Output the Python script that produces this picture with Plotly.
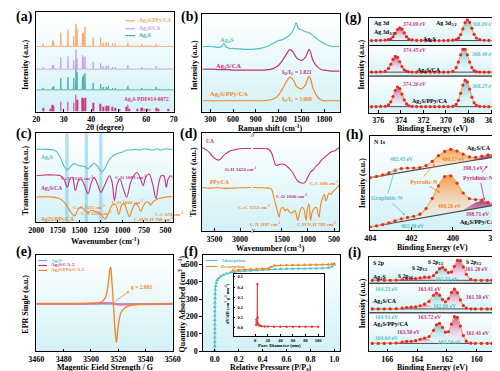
import plotly.graph_objects as go

W, H = 500, 371
FONT = "Liberation Serif"

TEAL = "#53bfc6"
XTEAL = "#4aaea6"
MAG = "#c4307f"
ORG = "#f5841f"
LAV = "#c9a3e2"
LORG = "#f6a870"
PINK = "#d0367f"
RED = "#e4282c"
FIT = "#f4a33c"
GRAY = "#4a4a4a"

# ======================= DATA =======================
# (a) XRD: peak positions (2theta) and peak heights
xrd_pos = [22.5, 25.1, 25.9, 26.3, 28.9, 31.5, 33.6, 34.4, 34.8, 36.8, 37.1, 37.7, 40.7, 43.4, 44.3, 45.4,
           46.2, 47.7, 48.7, 50.4, 52.7, 53.3, 53.9, 56.8, 58.3, 58.6, 59.5, 60.4, 61.3, 63.6, 64.5, 68.0]
xrd_ref = [4, 3, 7, 6, 10, 10, 9, 17, 12, 14, 13, 14, 9, 8, 5, 6, 6, 5, 4, 3, 5, 7, 3, 3, 4, 4, 3, 3, 3, 4, 3, 3]
xrd_ag2s = [2, 0.5, 3, 4, 12, 13, 12, 24, 18, 13, 15, 17, 7, 6, 3, 3, 4, 2, 2, 0.5, 1, 4, 1, 0.5, 2, 1, 1, 1, 1, 3, 1, 1]
xrd_ca = [2, 0.5, 4, 4, 12, 13, 9, 20, 11, 14, 12, 13, 7, 6, 3, 3, 4, 2, 2, 0.5, 1, 4, 1, 0.5, 2, 1, 1, 1, 1, 3, 1, 1]
xrd_ppy = [3, 1, 6, 5, 14, 17, 10, 23, 18, 13, 14, 20, 9, 9, 4, 4, 4, 3, 3, 1, 1, 4, 1, 1, 2, 1, 1, 1, 1, 3, 1, 1]
xrd_offsets = [22, 43, 66]

# (b) Raman
raman_x = [200, 250, 300, 350, 400, 450, 480, 500, 550, 600, 650, 700, 750, 800, 850, 900, 950, 1000, 1050, 1100,
           1150, 1200, 1250, 1300, 1350, 1400, 1430, 1460, 1500, 1550, 1580, 1600, 1620, 1650, 1700, 1750, 1800,
           1850, 1900, 1950, 2000]
raman_ag2s = [0, 0, 0, -0.5, -1, 0, 3, 0.5, -2, -2, -2.5, -2.5, -3, -3, -3, -2.5, -2, -1, 0, 2, 4, 6, 7, 9, 12, 18,
              24, 18, 17, 15, 14.5, 14, 13, 11, 8, 5, 3, 1, 0, 0, 0]
raman_ca = [1, 1, 1, 1, 0.5, 0.5, 0.5, 0.5, 0.5, 0, 0, 0, 0, 0, 0, 0, 0, 0, 0.5, 1, 2.5, 5, 10, 16, 21, 17, 13, 11,
            10, 13, 18, 21, 18, 10, 4, 1, 0, -0.5, -1, -1, -1]
raman_ppy = [0, 0, 0, 0, 0, 0, 0, 0, 0, 0, 0, 0, 0, 0, 0, 0, 0, 0, 0.5, 1, 2.5, 6, 12, 19, 24, 20, 15, 13, 12, 16, 22,
             25, 22, 13, 5, 1, 0, 0, 0, 0, 0]
raman_offsets = [66, 42, 11]

# (g) Ag 3d XPS (heights above baseline)
ag3d_x = [377.0, 376.6, 376.2, 375.8, 375.4, 375.1, 374.9, 374.7, 374.5, 374.3, 374.1, 373.9, 373.7, 373.5, 373.3,
          373.0, 372.6, 372.2, 371.8, 371.4, 371.0, 370.6, 370.2, 369.8, 369.4, 369.1, 368.9, 368.7, 368.5, 368.3,
          368.1, 367.9, 367.7, 367.5, 367.3, 367.0, 366.6, 366.2, 365.8]
ag3d_ag2s = [0, 0, 0.1, 0.2, 0.5, 1.0, 1.6, 3.8, 7.3, 11.2, 13.0, 11.5, 7.7, 3.9, 1.6, 0.6, 0.2, 0.1, 0, 0, 0, 0, 0,
             0.1, 0.4, 0.9, 2.4, 6.0, 11.8, 18.1, 21.0, 18.5, 12.4, 6.3, 2.6, 0.9, 0.3, 0.1, 0]
ag3d_ca = [0, 0, 0.1, 0.3, 0.8, 3.8, 8.0, 13.0, 15.9, 14.9, 10.5, 5.7, 2.3, 0.9, 0.4, 0.1, 0, 0, 0, 0, 0, 0, 0, 0.1,
           0.8, 4.5, 10.2, 17.6, 23.2, 23.2, 17.6, 10.2, 4.5, 1.5, 0.4, 0.1, 0, 0, 0]
ag3d_ppy = [0, 0, 0.1, 0.2, 0.4, 1.8, 4.9, 10.3, 16.4, 19.9, 18.3, 12.8, 6.8, 2.8, 0.9, 0.3, 0.1, 0, 0, 0, 0, 0, 0,
            0, 0.3, 2.3, 6.4, 13.5, 21.9, 26.8, 25.0, 17.8, 9.6, 3.9, 1.2, 0.3, 0.1, 0, 0]
ag3d_split = 371.0
ag3d_offsets = [73, 41, 6]

# (c) FTIR
c_ag2s_x = [2000, 1900, 1800, 1760, 1720, 1690, 1660, 1640, 1620, 1590, 1560, 1520, 1480, 1440, 1400, 1370, 1330,
            1300, 1270, 1240, 1210, 1180, 1150, 1100, 1050, 1000, 950, 900, 850, 800, 750, 700, 650, 600, 550, 500,
            450, 420]
c_ag2s_y = [73.7, 73.7, 73, 71, 65.3, 58.7, 54.3, 53, 54.3, 57.7, 59.3, 57.7, 57, 56.3, 54.3, 56.3, 59.7, 57.7, 53.7,
            51, 53.7, 58.7, 63.7, 67.7, 69.7, 71, 73, 73, 73.7, 73, 74.3, 73.7, 73, 74.3, 73, 74.3, 73.7, 74.3]
c_ca_x = [2000, 1900, 1800, 1720, 1680, 1640, 1610, 1580, 1547, 1510, 1480, 1440, 1400, 1360, 1330, 1290, 1250, 1200,
          1150, 1120, 1093, 1060, 1030, 990, 950, 910, 870, 830, 790, 760, 730, 690, 650, 610, 580, 550, 520, 490, 470,
          440, 420]
c_ca_y = [47, 47.7, 47.7, 47, 43.7, 35.3, 43.7, 45.3, 32, 42, 43.7, 37, 28.7, 40.3, 45.3, 38.7, 30.3, 38.7, 47, 40.3,
          22, 38.7, 43.7, 33.7, 25.3, 38.7, 47, 50.3, 43.7, 37, 45.3, 48.7, 38.7, 23.7, 38.7, 47, 47, 35.3, 43.7, 47,
          45.3]
c_ppy_x = [2000, 1900, 1800, 1750, 1700, 1650, 1600, 1555, 1520, 1480, 1440, 1400, 1360, 1320, 1280, 1240, 1202, 1160,
           1120, 1080, 1042, 1010, 980, 950, 920, 890, 850, 820, 788, 750, 720, 690, 674, 640, 600, 550, 500, 450, 420]
c_ppy_y = [25.3, 25.7, 25.3, 24.3, 22, 17, 10.3, 6.3, 12, 15.3, 12, 9.7, 12, 11, 9.7, 7, 3, 9.7, 17, 17.7, 7.7, 17,
           18.7, 12, 5.3, 12, 18.7, 17, 11, 17.7, 20.3, 19.7, 17, 21, 23, 24.3, 25.3, 25.7, 26]
c_bands = [(1665, 1625), (1438, 1400), (1270, 1232)]

# (d) FTIR with broken axis
d_ca_lx = [3750, 3700, 3650, 3600, 3550, 3500, 3450, 3424, 3380, 3330, 3280, 3200, 3100, 3000, 2900, 2780]
d_ca_ly = [86, 85, 83.3, 81, 77.7, 75, 73.7, 73.3, 74.3, 77.7, 80, 82.7, 84, 85, 85.3, 85.3]
d_ca_rx = [2050, 1900, 1800, 1750, 1700, 1660, 1630, 1600, 1560, 1500, 1450, 1400, 1350, 1300, 1250, 1200, 1150, 1100,
           1060, 1036, 1000, 950, 900, 850, 800, 750, 700, 650, 600, 550, 500, 450, 400]
d_ca_ry = [85.3, 85.3, 85, 84.3, 81, 74.3, 69.3, 67.7, 68.7, 69.3, 68.7, 66.7, 64.3, 61, 56, 52, 50, 49.3, 50, 52, 56,
           61, 63.3, 66.7, 69.3, 72.7, 75.3, 77.7, 80, 82, 82.7, 84.3, 86.7]
d_ppy_lx = [3750, 3600, 3450, 3300, 3150, 3000, 2780]
d_ppy_ly = [45, 44.3, 44.7, 44, 44.3, 44.7, 45]
d_ppy_rx = [2050, 1900, 1750, 1700, 1660, 1620, 1580, 1554, 1520, 1480, 1440, 1400, 1350, 1300, 1250, 1197, 1160,
            1120, 1080, 1036, 1010, 980, 950, 920, 880, 840, 789, 760, 720, 690, 680, 660, 630, 600, 560, 520, 480,
            440, 400]
d_ppy_ry = [45, 44.7, 44.3, 43.3, 36, 27.7, 19.3, 14.3, 22.7, 24.3, 21, 22.7, 19.3, 18.7, 21, 11, 18.7, 24.3, 22.7,
            11, 23.3, 27.7, 11, 19.3, 23.3, 24.3, 14.3, 26, 34.3, 37.7, 36.7, 31, 34.3, 39.3, 37.7, 41, 42.7, 45.3,
            47.7]

# (h) N 1s XPS
n1s_x = [404.0, 403.7, 403.4, 403.1, 402.8, 402.5, 402.2, 401.9, 401.6, 401.3, 401.0, 400.7, 400.4, 400.1, 399.8,
         399.5, 399.2, 398.9, 398.6, 398.3, 398.0]
n1s_base_ca = [53.0, 54.1, 55.1, 56.2, 57.2, 58.3, 59.3, 60.4, 61.4, 62.5, 63.5, 64.6, 65.6, 66.7, 67.7, 68.8, 69.8,
               70.9, 71.9, 73.0, 74.0]
n1s_ca_pyrrolic = [0, 0, 0, 0, 0, 0, 0, 0.2, 0.8, 2.5, 5.9, 10.7, 14.0, 15.0, 12.3, 7.9, 3.9, 1.5, 0.5, 0.1, 0]
n1s_ca_graphitic = [0.0, 0.2, 0.7, 1.8, 3.2, 4.0, 3.5, 2.2, 1.0, 0.3, 0.1, 0, 0, 0, 0, 0, 0, 0, 0, 0, 0]
n1s_ca_pyridinic = [0, 0, 0, 0, 0, 0, 0, 0, 0, 0, 0, 0, 0, 0, 0, 0.06, 0.3, 1.1, 2.4, 3.0, 2.4]
n1s_ca_env = [0, 0.2, 0.7, 1.8, 3.2, 4.0, 3.5, 2.4, 1.8, 2.8, 6.0, 10.7, 14.0, 15.0, 12.3, 8.0, 4.2, 2.6, 2.9, 3.1, 2.4]
n1s_base_ppy = [3.0, 4.1, 5.2, 6.3, 7.4, 8.5, 9.6, 10.7, 11.8, 12.9, 14.0, 15.1, 16.2, 17.3, 18.4, 19.5, 20.6, 21.7,
                22.8, 23.9, 25.0]
n1s_ppy_pyrrolic = [0, 0, 0, 0, 0, 0, 0.2, 0.9, 3.1, 8.4, 18.0, 29.6, 37.9, 37.6, 28.9, 17.2, 8.0, 2.9, 0.8, 0.2, 0]
n1s_ppy_graphitic = [0, 0.07, 0.3, 0.9, 1.9, 2.8, 2.9, 2.2, 1.1, 0.4, 0, 0, 0, 0, 0, 0, 0, 0, 0, 0, 0]
n1s_ppy_pyridinic = [0, 0, 0, 0, 0, 0, 0, 0, 0, 0, 0, 0, 0, 0, 0.1, 0.8, 3.1, 6.2, 6.7, 3.9, 1.3]
n1s_ppy_env = [0, 0.07, 0.3, 0.9, 1.9, 2.8, 3.1, 3.1, 4.2, 8.8, 18.0, 29.6, 37.9, 37.6, 29.0, 18.0, 11.1, 9.1, 7.5,
               4.1, 1.3]

# (e) EPR
epr_x = [3460, 3480, 3490, 3500, 3505, 3508, 3510, 3511, 3512, 3513, 3514, 3514.5, 3515, 3516, 3517, 3518, 3518.7,
         3519.5, 3520, 3521, 3522, 3524, 3527, 3530, 3535, 3540, 3550, 3560]
epr_ppy = [0, 0, 0.2, 0.6, 1.2, 2.5, 5, 8, 14, 24, 36, 37, 30, 10, -12, -32, -39, -30, -22, -14, -9, -5, -2.5, -1.2,
           -0.5, -0.2, 0, 0]
epr_ca_x = [3460, 3500, 3510, 3516, 3520, 3530, 3560]
epr_ca = [0, 0.3, 0.8, 0.5, -0.5, -0.3, 0]
epr_ag2s_x = [3460, 3560]
epr_ag2s = [0, 0]

# (f) N2 isotherm + pore size distribution
ads_p = [0.0] * 12 + [0.001, 0.002, 0.004, 0.007, 0.012, 0.02, 0.03, 0.05, 0.07, 0.1, 0.13, 0.16, 0.2, 0.25, 0.3,
                      0.35, 0.4, 0.45, 0.5, 0.55, 0.6, 0.65, 0.7, 0.75, 0.8, 0.85, 0.9, 0.95, 0.98, 1.0]
ads_q = [5, 30, 55, 80, 105, 130, 155, 180, 205, 230, 255, 280, 305, 330, 355, 375, 395, 410, 420, 432, 440, 448,
         453, 456, 460, 463, 465, 467, 469, 471, 473, 474, 475, 475, 476, 476, 477, 477, 478, 481, 488, 500]
des_p = [1.0, 0.98, 0.95, 0.9, 0.85, 0.8, 0.75, 0.7, 0.65, 0.6, 0.55, 0.5, 0.47, 0.45, 0.4, 0.35, 0.3, 0.25, 0.2, 0.15]
des_q = [505, 502, 500, 499, 498, 498, 497, 497, 496, 496, 495, 494, 485, 477, 475, 474, 473, 471, 469, 465]
pore_d = [1.5, 2.0, 2.5, 3.0, 3.5, 3.8, 4.2, 5, 6, 8, 10, 15, 20, 30, 40, 50, 60, 70, 80, 90, 100]
pore_v = [0.03, 0.08, 0.06, 0.05, 0.43, 0.10, 0.04, 0.03, 0.025, 0.02, 0.015, 0.012, 0.012, 0.01, 0.01, 0.01, 0.01,
          0.01, 0.01, 0.01, 0.01]

# (i) S 2p XPS
s2p_x = [167.0, 166.6, 166.2, 165.8, 165.4, 165.0, 164.7, 164.4, 164.1, 163.8, 163.5, 163.2, 162.9, 162.7, 162.5, 162.3,
         162.1, 161.9, 161.7, 161.5, 161.3, 161.1, 160.9, 160.7, 160.4, 160.1, 159.7, 159.3, 159.0]
s1_p32 = [0] * 16 + [0.4, 1.9, 6.1, 13.5, 20.0, 20.0, 13.5, 6.1, 0.9, 0.05, 0, 0, 0]
s1_p12 = [0] * 10 + [0.05, 0.5, 3.2, 7.2, 11.5, 13.0, 10.2, 5.9, 2.4, 0.6, 0.1] + [0] * 8
s1_s32 = [0] * 7 + [0.2, 0.8, 2.0, 3.0, 2.6, 1.5, 0.7, 0.3, 0.1] + [0] * 13
s1_s12 = [0] * 4 + [0.2, 0.8, 1.4, 1.4, 0.9, 0.4, 0.1] + [0] * 18
s1_env = [0, 0, 0, 0.05, 0.2, 0.8, 1.4, 1.6, 1.7, 2.4, 3.1, 3.1, 4.7, 7.9, 11.8, 13.1, 10.6, 7.8, 8.5, 14.1, 20.1, 20.0,
          13.5, 6.1, 0.9, 0.05, 0, 0, 0]
s2_p32 = [0] * 14 + [0.1, 0.9, 3.4, 9.1, 16.4, 20.0, 16.4, 9.1, 3.4, 0.9, 0.05] + [0] * 4
s2_p12 = [0] * 9 + [0.05, 0.7, 4.1, 11.7, 15.0, 13.4, 8.5, 3.8, 1.2, 0.3] + [0] * 10
s2_s32 = [0] * 7 + [0.3, 1.1, 2.7, 4.0, 3.5, 2.0, 0.9, 0.4, 0.1] + [0] * 13
s2_s12 = [0] * 4 + [0.2, 0.8, 1.4, 1.4, 0.9, 0.4, 0.1] + [0] * 18
s2_env = [0, 0, 0, 0.05, 0.2, 0.8, 1.4, 1.7, 2.0, 3.2, 4.8, 7.6, 13.7, 15.9, 13.9, 9.5, 7.2, 10.3, 16.7, 20.0, 16.4,
          9.1, 3.4, 0.9, 0.05, 0, 0, 0, 0]
s3_p32 = [0] * 14 + [0.1, 0.6, 2.8, 8.4, 18.5, 26.9, 26.4, 17.6, 7.9, 2.3, 0.2] + [0] * 4
s3_p12 = [0] * 10 + [0.4, 3.0, 11.4, 17.9, 19.9, 15.6, 8.6, 3.4, 1.0, 0.2] + [0] * 9
s3_s32 = [0] * 6 + [0.1, 0.5, 1.9, 3.9, 5.0, 3.9, 1.9, 0.9, 0.3] + [0] * 14
s3_s12 = [0] * 3 + [0.05, 0.4, 1.4, 2.0, 1.7, 0.9, 0.3, 0.1] + [0] * 18
s3_env = [0, 0, 0, 0.05, 0.4, 1.4, 2.1, 2.2, 2.8, 4.2, 5.5, 6.9, 13.3, 18.8, 20.3, 16.2, 11.4, 11.8, 19.5, 27.1, 26.4,
          17.6, 7.9, 2.3, 0.2, 0, 0, 0, 0]
s2p_offsets = [72, 43, 8]

# ======================= FIGURE =======================
fig = go.Figure()
shapes = []
annots = []


def dxp(l, r):
    return [l / W, r / W]


def dyp(t, b):
    return [1 - b / H, 1 - t / H]


def grad_bg(l, t, r, b, n=14, top=(255, 255, 255), bot=(210, 242, 247)):
    for k in range(n):
        y0 = t + (b - t) * k / n
        y1 = t + (b - t) * (k + 1) / n + 0.6
        f = (k + 0.5) / n
        c = tuple(round(top[i] + (bot[i] - top[i]) * f) for i in range(3))
        shapes.append(dict(type='rect', xref='paper', yref='paper', x0=l / W, x1=r / W,
                           y0=1 - min(y1, b) / H, y1=1 - y0 / H,
                           fillcolor='rgb(%d,%d,%d)' % c, line=dict(width=0), layer='below'))


def T(xp, yp, text, size=6.5, color='black', xanchor='center', angle=0, italic=False, bold=True):
    annots.append(dict(x=xp / W, y=1 - yp / H, xref='paper', yref='paper', text=text, showarrow=False,
                       xanchor=xanchor, yanchor='middle', textangle=angle,
                       font=dict(family=FONT, size=size, color=color, weight='bold' if bold else 'normal',
                                 style='italic' if italic else 'normal')))


def ARROW(hx, hy, tx, ty, color):
    annots.append(dict(x=hx / W, y=1 - hy / H, xref='paper', yref='paper', text='', showarrow=True,
                       ax=tx - hx, ay=ty - hy, arrowhead=2, arrowsize=0.6, arrowwidth=0.8, arrowcolor=color))


def LEG(x0, x1, yp, color, width=1.2):
    shapes.append(dict(type='line', xref='paper', yref='paper', x0=x0 / W, x1=x1 / W, y0=1 - yp / H, y1=1 - yp / H,
                       line=dict(color=color, width=width), layer='above'))


def sc(x, y, ax, color, width=1.0, shape='linear', mode='lines', **kw):
    xa = 'x' if ax == 1 else 'x%d' % ax
    ya = 'y' if ax == 1 else 'y%d' % ax
    return go.Scatter(x=x, y=y, mode=mode, line=dict(color=color, width=width, shape=shape),
                      xaxis=xa, yaxis=ya, hoverinfo='skip', **kw)


def fill_poly(x, base, hts, ax, color_rgba):
    xs = list(x) + list(x)[::-1]
    ys = [b + h for b, h in zip(base, hts)] + list(base)[::-1]
    xa = 'x' if ax == 1 else 'x%d' % ax
    ya = 'y' if ax == 1 else 'y%d' % ax
    return go.Scatter(x=xs, y=ys, mode='lines', fill='toself', line=dict(width=0),
                      fillgradient=dict(type='vertical',
                                        colorscale=[[0, 'rgba(255,255,255,0.25)'], [1, color_rgba]]),
                      xaxis=xa, yaxis=ya, hoverinfo='skip')


tickfont = dict(family=FONT, size=8, color='black', weight='bold')


def xax(dom, rng, tickvals, anchor, mirror=True, size=8, ticklen=2.5, fmt=None):
    d = dict(domain=dom, range=rng, tickvals=tickvals, anchor=anchor, showline=True, linecolor='black',
             linewidth=1, mirror=mirror, ticks='inside', ticklen=ticklen, tickwidth=1, tickcolor='black',
             showgrid=False, zeroline=False, tickfont=dict(tickfont, size=size))
    if fmt:
        d['tickformat'] = fmt
    return d


def yax(dom, rng, anchor, mirror=True, tickvals=None, side='left', showlabels=False, size=8):
    d = dict(domain=dom, range=rng, anchor=anchor, showline=True, linecolor='black', linewidth=1, mirror=mirror,
             ticks='outside' if showlabels else '', ticklen=2.5, tickcolor='black', showgrid=False, zeroline=False,
             showticklabels=showlabels, side=side, tickfont=dict(tickfont, size=size))
    if tickvals is not None:
        d['tickvals'] = tickvals
    return d


layout_axes = {}

# ---------- panel geometry (pixels) ----------
PA = (21, 4, 163, 105)
PB = (192, 6, 335, 105)
PG = (365, 10, 496, 106)
PC = (21, 127, 162, 217)
PD = (192, 127, 334, 226)
PH = (366, 130, 494, 225)
PE = (21, 250, 162, 348)
PF = (193, 250, 335, 348)
PI = (365, 252, 493, 348)

for p in [PA, PB, PC, PD, PH, PE, PF]:
    grad_bg(*p)
for (t, b) in [(10, 38), (38, 69), (69, 106)]:
    grad_bg(PG[0], t, PG[2], b, n=8)
for (t, b) in [(252, 279), (279, 309), (309, 348)]:
    grad_bg(PI[0], t, PI[2], b, n=8)
# inset background (white)
shapes.append(dict(type='rect', xref='paper', yref='paper', x0=225 / W, x1=318 / W, y0=1 - 332 / H, y1=1 - 270 / H,
                   fillcolor='white', line=dict(width=0), layer='below'))

# ===== (a) XRD =====
layout_axes['xaxis'] = xax(dxp(PA[0], PA[2]), [20, 70], [20, 30, 40, 50, 60, 70], 'y')
layout_axes['yaxis'] = yax(dyp(PA[1], PA[3]), [0, 101], 'x')


def spikes(pos, hts, base, hw=0.15, lo=20, hi=70):
    xs, ys = [lo], [base]
    for p, h in zip(pos, hts):
        xs += [p - hw, p, p + hw]
        ys += [base, base + h, base]
    xs.append(hi)
    ys.append(base)
    return xs, ys


fig.add_trace(go.Bar(x=xrd_pos, y=xrd_ref, width=0.28, marker=dict(color=PINK, line=dict(width=0)),
                     xaxis='x', yaxis='y', hoverinfo='skip'))
for hts, off, col in zip([xrd_ag2s, xrd_ca, xrd_ppy], xrd_offsets, [XTEAL, LAV, LORG]):
    xs, ys = spikes(xrd_pos, hts, off)
    fig.add_trace(sc(xs, ys, 1, col, width=0.9))
for yp, col, lab in [(13, LORG, 'Ag<sub>2</sub>S/PPy/CA'), (21, LAV, 'Ag<sub>2</sub>S/CA'), (28, XTEAL, 'Ag<sub>2</sub>S')]:
    LEG(113, 123, yp, col)
    T(125, yp, lab, size=5.5, color=col, xanchor='left')
T(135, 93, 'Ag<sub>2</sub>S PDF#14-0072', size=5.5, color=PINK)

# ===== (b) Raman =====
layout_axes['xaxis2'] = xax(dxp(PB[0], PB[2]), [190, 2010], [300, 600, 900, 1200, 1500, 1800], 'y2')
layout_axes['yaxis2'] = yax(dyp(PB[1], PB[3]), [0, 99], 'x2')
for hts, off, col in zip([raman_ag2s, raman_ca, raman_ppy], raman_offsets, [TEAL, MAG, ORG]):
    fig.add_trace(sc(raman_x, [off + h for h in hts], 2, col, width=1.2, shape='spline'))
T(218, 32, 'Ag<sub>2</sub>S', size=6.5, color=TEAL)
T(220, 59, 'Ag<sub>2</sub>S/CA', size=6.5, color=MAG)
T(220, 87, 'Ag<sub>2</sub>S/PPy/CA', size=6.5, color=ORG)
T(290, 65, 'I<sub>D</sub>/I<sub>G</sub> = 1.021', size=5.5, color=MAG)
T(290, 93, 'I<sub>D</sub>/I<sub>G</sub> = 1.068', size=5.5, color=ORG)

# ===== (g) Ag 3d =====
layout_axes['xaxis3'] = xax(dxp(PG[0], PG[2]), [376.8, 365.55], [376, 374, 372, 370, 368, 366], 'y3')
layout_axes['yaxis3'] = yax(dyp(PG[1], PG[3]), [0, 96], 'x3')
for hts, off in zip([ag3d_ag2s, ag3d_ca, ag3d_ppy], ag3d_offsets):
    li = [i for i, x in enumerate(ag3d_x) if x >= ag3d_split]
    ri = [i for i, x in enumerate(ag3d_x) if x <= ag3d_split]
    fig.add_trace(fill_poly([ag3d_x[i] for i in li], [off] * len(li), [hts[i] for i in li], 3,
                            'rgba(196,48,127,0.8)'))
    fig.add_trace(fill_poly([ag3d_x[i] for i in ri], [off] * len(ri), [hts[i] for i in ri], 3,
                            'rgba(70,185,190,0.8)'))
    fig.add_trace(sc([ag3d_x[0], ag3d_x[-1]], [off, off], 3, GRAY, width=1))
    yy = [off + h for h in hts]
    fig.add_trace(sc(ag3d_x, yy, 3, FIT, width=1.1, shape='spline'))
    fig.add_trace(sc(ag3d_x, yy, 3, RED, mode='markers', marker=dict(size=3.2, color=RED)))
for yv in [68, 37]:
    shapes.append(dict(type='line', xref='x3 domain', yref='y3', x0=0, x1=1, y0=yv, y1=yv,
                       line=dict(color='black', width=1)))
T(368, 15, 'Ag 3d', size=6, xanchor='left')
T(368, 25, 'Ag 3d<sub>3/2</sub>', size=6, xanchor='left')
T(412, 16, '374.09 eV', size=5.5, color=MAG, italic=True)
T(445, 16, 'Ag 3d<sub>5/2</sub>', size=6)
T(483, 16, '368.09 eV', size=5.5, color=TEAL, italic=True)
T(427, 32, 'Ag<sub>2</sub>S', size=6)
T(412, 43, '374.45 eV', size=5.5, color=MAG, italic=True)
T(483, 47, '368.40 eV', size=5.5, color=TEAL, italic=True)
T(427, 63, 'Ag<sub>2</sub>S/CA', size=6)
T(412, 77, '374.26 eV', size=5.5, color=MAG, italic=True)
T(483, 79, '368.25 eV', size=5.5, color=TEAL, italic=True)
T(428, 95, 'Ag<sub>2</sub>S/PPy/CA', size=6)

# ===== (c) FTIR =====
layout_axes['xaxis4'] = xax(dxp(PC[0], PC[2]), [2000, 415], [2000, 1750, 1500, 1250, 1000, 750, 500], 'y4')
layout_axes['yaxis4'] = yax(dyp(PC[1], PC[3]), [0, 90], 'x4')
for (a, b) in c_bands:
    shapes.append(dict(type='rect', xref='x4', yref='y4 domain', x0=a, x1=b, y0=0, y1=1,
                       fillcolor='rgba(120,200,225,0.55)', line=dict(width=0), layer='below'))
fig.add_trace(sc(c_ag2s_x, c_ag2s_y, 4, TEAL, width=1.1, shape='spline'))
fig.add_trace(sc(c_ca_x, c_ca_y, 4, MAG, width=1.1, shape='spline'))
fig.add_trace(sc(c_ppy_x, c_ppy_y, 4, ORG, width=1.1, shape='spline'))
T(24, 152, 'Ag<sub>2</sub>S', size=5.5, color=TEAL, xanchor='left')
T(44, 172, 'C=C 1547 cm<sup>-1</sup>', size=5, color=MAG, xanchor='left')
T(100, 171, 'C-O 1093 cm<sup>-1</sup>', size=5, color=MAG, xanchor='left')
T(24, 183, 'Ag<sub>2</sub>S/CA', size=5.5, color=MAG, xanchor='left')
T(57, 202, 'C=C 1555 cm<sup>-1</sup>', size=5, color=ORG, xanchor='left')
T(65, 207.5, 'C-N 1202 cm<sup>-1</sup>', size=5, color=ORG, xanchor='left')
T(97, 197, 'C-O 1042 cm<sup>-1</sup>', size=5, color=ORG, xanchor='left')
T(142, 209, 'C-C 674 cm<sup>-1</sup>', size=5, color=ORG, xanchor='left')
T(120, 214, 'C-H/N-H 788 cm<sup>-1</sup>', size=5, color=ORG, xanchor='left')
T(24, 214, 'Ag2S/PPy/CA', size=5.5, color=ORG, xanchor='left')

# ===== (d) FTIR broken axis =====
ydom_d = dyp(PD[1], PD[3])
layout_axes['xaxis5'] = xax(dxp(192, 243), [3750, 2780], [3500, 3000], 'y5')
layout_axes['yaxis5'] = yax(ydom_d, [0, 101], 'x5', mirror=False)
layout_axes['xaxis6'] = xax(dxp(245, 334), [2050, 400], [1500, 1000, 500], 'y6')
layout_axes['yaxis6'] = yax(ydom_d, [0, 101], 'x6', mirror=False, side='right')
fig.add_trace(sc(d_ca_lx, d_ca_ly, 5, MAG, width=1.1, shape='spline'))
fig.add_trace(sc(d_ppy_lx, d_ppy_ly, 5, ORG, width=1.1, shape='spline'))
fig.add_trace(sc(d_ca_rx, d_ca_ry, 6, MAG, width=1.1, shape='spline'))
fig.add_trace(sc(d_ppy_rx, d_ppy_ry, 6, ORG, width=1.1, shape='spline'))
T(244, 128.5, '//', size=6)
T(244, 226, '//', size=6)
T(200, 135, 'CA', size=5.5, color=MAG)
T(214, 163, 'O-H 3424 cm<sup>-1</sup>', size=5, color=MAG, xanchor='left')
T(198, 176, 'PPy/CA', size=5.5, color=ORG, xanchor='left')
T(267, 191, 'C-O 1036 cm<sup>-1</sup>', size=5, color=MAG, xanchor='left')
T(302, 177, 'C-C 680 cm<sup>-1</sup>', size=5, color=ORG, xanchor='left')
T(227, 202, 'C=C 1554 cm<sup>-1</sup>', size=5, color=ORG, xanchor='left')
T(240, 219, 'C-N 1197 cm<sup>-1</sup>', size=5, color=ORG, xanchor='left')
T(288, 219, 'C-H/N-H 789 cm<sup>-1</sup>', size=5, color=ORG, xanchor='left')

# ===== (h) N 1s =====
layout_axes['xaxis7'] = xax(dxp(PH[0], PH[2]), [404, 398], [404, 402, 400, 398], 'y7')
layout_axes['yaxis7'] = yax(dyp(PH[1], PH[3]), [0, 95], 'x7')
for base, comps, env in [
        (n1s_base_ca, [n1s_ca_graphitic, n1s_ca_pyrrolic, n1s_ca_pyridinic], n1s_ca_env),
        (n1s_base_ppy, [n1s_ppy_graphitic, n1s_ppy_pyrrolic, n1s_ppy_pyridinic], n1s_ppy_env)]:
    for hts, col in zip(comps, ['rgba(90,195,200,0.8)', 'rgba(245,140,40,0.85)', 'rgba(170,40,120,0.9)']):
        fig.add_trace(fill_poly(n1s_x, base, hts, 7, col))
    fig.add_trace(sc(n1s_x, base, 7, GRAY, width=1.2))
    yy = [b + h for b, h in zip(base, env)]
    fig.add_trace(sc(n1s_x, yy, 7, FIT, width=1.1, shape='spline'))
    fig.add_trace(sc(n1s_x, yy, 7, RED, mode='markers', marker=dict(size=3.2, color=RED)))
T(368, 136, 'N 1s', size=6, xanchor='left')
T(478, 142, 'Ag<sub>2</sub>S/CA', size=6)
T(398, 153, '402.45 eV', size=5.5, color=TEAL)
T(452, 153, '400.17 eV', size=5.5, color=ORG)
T(472, 162, '398.3 eV', size=5.5, color=MAG)
T(422, 176, 'Pyrrolic-N', size=6, color=ORG)
T(478, 172, 'Pyridinic-N', size=6, color=MAG)
T(383, 193, 'Graphitic-N', size=6, color=TEAL)
T(448, 201, '400.26 eV', size=5.5, color=ORG)
T(477, 209, '398.71 eV', size=5.5, color=MAG)
T(477, 217, 'Ag<sub>2</sub>S/PPy/CA', size=6)
T(410, 221, '402.30 eV', size=5.5, color=TEAL)
ARROW(433, 158, 420, 172, ORG)
ARROW(438, 187, 426, 180, ORG)
ARROW(392, 162, 384, 189, TEAL)
ARROW(402, 210, 388, 197, TEAL)
ARROW(487, 160, 480, 168, MAG)
ARROW(484, 195, 480, 176, MAG)

# ===== (e) EPR =====
layout_axes['xaxis8'] = xax(dxp(PE[0], PE[2]), [3460, 3560], [3460, 3480, 3500, 3520, 3540, 3560], 'y8')
layout_axes['yaxis8'] = yax(dyp(PE[1], PE[3]), [-48, 50], 'x8')
fig.add_trace(sc(epr_ag2s_x, epr_ag2s, 8, TEAL, width=1.2))
fig.add_trace(sc(epr_ca_x, epr_ca, 8, '#d678b4', width=2.2, shape='spline'))
fig.add_trace(sc(epr_x, epr_ppy, 8, ORG, width=1.3, shape='spline'))
for yp, col, lab in [(256, TEAL, 'Ag<sub>2</sub>S'), (261, MAG, 'Ag<sub>2</sub>S/CA-5'),
                     (266, ORG, 'Ag<sub>2</sub>S/PPy/CA-5')]:
    LEG(23, 32, yp, col)
    T(34, yp, lab, size=5, color=col, xanchor='left')
ARROW(117, 287, 102, 298, ORG)
T(130, 283, 'g = 2.003', size=5.5, color=ORG)

# ===== (f) BET =====
layout_axes['xaxis9'] = xax(dxp(PF[0], PF[2]), [-0.1, 1.05], [0.0, 0.2, 0.4, 0.6, 0.8, 1.0], 'y9', fmt='.1f')
layout_axes['yaxis9'] = yax(dyp(PF[1], PF[3]), [0, 557], 'x9', tickvals=[0, 100, 200, 300, 400, 500],
                            showlabels=True)
fig.add_trace(sc(ads_p, ads_q, 9, TEAL, width=1, mode='lines+markers',
                 marker=dict(symbol='triangle-up', size=3.5, color=TEAL)))
fig.add_trace(sc(des_p, des_q, 9, ORG, width=1, mode='lines+markers',
                 marker=dict(symbol='triangle-up', size=3.5, color=ORG)))
for yp, col, lab in [(256, TEAL, 'Adsorption'), (262, ORG, 'Desorption')]:
    LEG(196, 208, yp, col, width=1)
    T(210, yp, lab, size=5, color=col, xanchor='left')
# inset
layout_axes['xaxis10'] = xax(dxp(225, 318), [-34, 109], [0, 20, 40, 60, 80, 100], 'y10', size=4.5, ticklen=1.5)
layout_axes['yaxis10'] = yax(dyp(270, 332), [-0.077, 0.525], 'x10', tickvals=[0, 0.1, 0.2, 0.3, 0.4, 0.5],
                             showlabels=True, size=4.5)
layout_axes['yaxis10']['ticklabelposition'] = 'inside'
layout_axes['yaxis10']['ticks'] = 'inside'
layout_axes['yaxis10']['ticklen'] = 1.5
layout_axes['yaxis10']['tickformat'] = '.1f'
fig.add_trace(sc(pore_d, pore_v, 10, '#e04646', width=1, mode='lines+markers',
                 marker=dict(size=2.5, color='#e04646')))
T(272, 342, 'Pore Diameter (nm)', size=5)
T(218, 300, 'dV/dD (cm<sup>3</sup> g<sup>-1</sup> nm<sup>-1</sup>)', size=4.5, angle=-90)

# ===== (i) S 2p =====
layout_axes['xaxis11'] = xax(dxp(PI[0], PI[2]), [167.2, 158.9], [166, 164, 162, 160], 'y11')
layout_axes['yaxis11'] = yax(dyp(PI[1], PI[3]), [0, 96], 'x11')
pinkc = 'rgba(196,48,127,0.8)'
tealc = 'rgba(70,185,190,0.8)'
for off, comps, env in [(s2p_offsets[0], [s1_s12, s1_s32, s1_p12, s1_p32], s1_env),
                        (s2p_offsets[1], [s2_s12, s2_s32, s2_p12, s2_p32], s2_env),
                        (s2p_offsets[2], [s3_s12, s3_s32, s3_p12, s3_p32], s3_env)]:
    for hts, col in zip(comps, [tealc, pinkc, tealc, pinkc]):
        fig.add_trace(fill_poly(s2p_x, [off] * len(s2p_x), hts, 11, col))
    fig.add_trace(sc([s2p_x[0], s2p_x[-1]], [off, off], 11, GRAY, width=1))
    yy = [off + h for h in env]
    fig.add_trace(sc(s2p_x, yy, 11, FIT, width=1.1, shape='spline'))
    fig.add_trace(sc(s2p_x, yy, 11, RED, mode='markers', marker=dict(size=3.2, color=RED)))
for yv in [69, 39]:
    shapes.append(dict(type='line', xref='x11 domain', yref='y11', x0=0, x1=1, y0=yv, y1=yv,
                       line=dict(color='black', width=1)))
T(367, 258, 'S 2p', size=6, xanchor='left')
T(402, 272, 'S 2p<sub>1/2</sub>', size=5.5)
T(417, 264, 'S 2p<sub>3/2</sub>', size=5.5)
T(433, 258, 'S 2p<sub>1/2</sub>', size=5.5)
T(473, 258, 'S 2p<sub>3/2</sub>', size=5.5)
T(367, 273, 'Ag<sub>2</sub>S', size=6, xanchor='left')
T(445, 275, '162.33 eV', size=5.5, color=TEAL)
T(476, 265, '161.20 eV', size=5.5, color=MAG)
T(383, 285, '164.53 eV', size=5.5, color=TEAL)
T(427, 285, '163.41 eV', size=5.5, color=MAG)
T(367, 298, 'Ag<sub>2</sub>S/CA', size=6, xanchor='left')
T(477, 293, '161.50 eV', size=5.5, color=MAG)
T(443, 302, '162.66 eV', size=5.5, color=TEAL)
T(383, 313, '164.93 eV', size=5.5, color=TEAL)
T(427, 313, '163.72 eV', size=5.5, color=MAG)
T(367, 321, 'Ag<sub>2</sub>S/PPy/CA', size=6, xanchor='left')
T(405, 328, '163.50 eV', size=5.5, color=MAG)
T(477, 329, '161.41 eV', size=5.5, color=MAG)
T(383, 335, '164.64 eV', size=5.5, color=TEAL)
T(448, 339, '162.54 eV', size=5.5, color=TEAL)

# ===== axis titles & panel labels =====
AT = 8
T(92, 121.5, '2θ (degree)', size=AT)
T(263, 121.8, 'Raman shift (cm<sup>-1</sup>)', size=AT)
T(430, 122, 'Binding Energy (eV)', size=AT)
T(92, 236, 'Wavenumber (cm<sup>-1</sup>)', size=AT)
T(263, 243, 'Wavenumber (cm<sup>-1</sup>)', size=AT)
T(430, 242.5, 'Binding Energy (eV)', size=AT)
T(92, 364, 'Magentic Eield Strength / G', size=AT)
T(263, 364.5, 'Relative Pressure (P/P\u2080)', size=AT)
T(430, 364, 'Binding Energy (eV)', size=AT)
T(10, 58, 'Intensity (a.u.)', size=AT, angle=-90)
T(184, 58, 'Intensity (a.u.)', size=AT, angle=-90)
T(357, 58, 'Intensity (a.u.)', size=AT, angle=-90)
T(10, 175, 'Transmittance (a.u.)', size=AT, angle=-90)
T(184, 176, 'Transmittance (a.u.)', size=AT, angle=-90)
T(358, 178, 'Intensity (a.u.)', size=AT, angle=-90)
T(10, 300, 'EPR Single (a.u.)', size=AT, angle=-90)
T(171, 300, 'Quantity Adsorbed (cm<sup>3</sup> g<sup>-1</sup>)', size=AT, angle=-90)
T(358, 300, 'Intensity (a.u.)', size=AT, angle=-90)
for xp, yp, lab in [(9, 9, '(a)'), (179, 9, '(b)'), (349, 10, '(g)'), (8, 128, '(c)'), (178, 128, '(d)'),
                    (350, 129, '(h)'), (8, 247, '(e)'), (181, 247, '(f)'), (350, 248, '(i)')]:
    T(xp, yp, lab, size=14)

fig.update_layout(width=W, height=H, margin=dict(l=0, r=0, t=0, b=0), paper_bgcolor='white',
                  plot_bgcolor='rgba(0,0,0,0)', showlegend=False, shapes=shapes, annotations=annots,
                  font=dict(family=FONT, color='black'), **layout_axes)
fig.write_html("out.html")
